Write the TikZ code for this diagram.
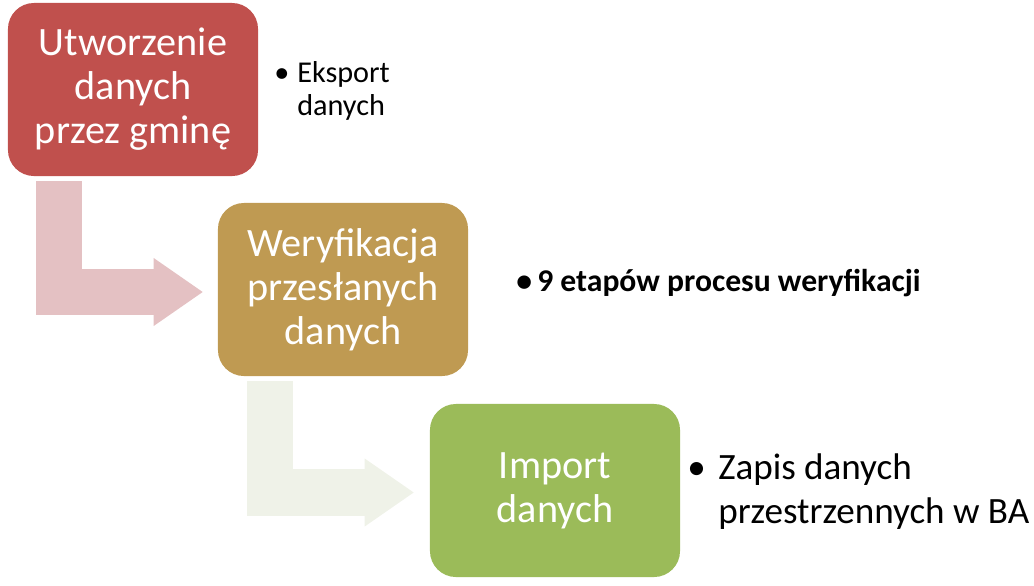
\documentclass[tikz,border=0pt]{standalone}
\usepackage{fontspec}
\setmainfont{Carlito}
\usetikzlibrary{arrows.meta,calc}

\definecolor{czerwony}{HTML}{C0504D}
\definecolor{zloty}{HTML}{BF9A52}
\definecolor{zielony}{HTML}{9BBB59}
\definecolor{rozowy}{HTML}{E4C1C3}
\definecolor{seledyn}{HTML}{EFF2E8}

% punkt listy: kropka + tekst w kolumnie
\newcommand{\punkt}[2]{\makebox[#1][l]{\textbullet}\begin{tabular}[t]{@{}l@{}}#2\end{tabular}}

\begin{document}
\begin{tikzpicture}[
    x=0.025cm, y=-0.025cm,
    every node/.style={inner sep=0pt},
    box/.style={rectangle, rounded corners=0.65cm, minimum width=6.25cm, minimum height=4.325cm, align=center, text=white, font=\fontsize{28.6}{31.3}\selectfont},
    opis/.style={anchor=base west, align=left, font=\fontsize{21.5}{23.5}\selectfont},
    strz/.style={line width=1.15cm, -{Triangle[length=1.225cm, width=1.7cm, line width=0pt]}}
]
\useasboundingbox (0,0) rectangle (1034,586);

\node[box, fill=czerwony] (utw) at (133, 89.5)  {Utworzenie\\danych\\przez gminę};
\node[box, fill=zloty]    (wer) at (343, 289.5) {Weryfikacja\\przesłanych\\danych};
\node[box, fill=zielony]  (imp) at (555, 490.5) {Import\\danych};

\node[opis] (eks) at (274, 82) {\punkt{0.575cm}{Eksport\\danych}};
\node[opis, font=\bfseries\fontsize{22.5}{26}\selectfont] (etp) at (516, 291) {\punkt{0.525cm}{9 etapów procesu weryfikacji}};
\node[opis, font=\fontsize{26.4}{31.3}\selectfont] (zap) at (687, 479) {\punkt{0.775cm}{Zapis danych\\przestrzennych w BA}};

\draw[strz, draw=rozowy]  ($(utw.south west)+(51,5)$) |- ($(wer.west)+(-15,2.5)$);
\draw[strz, draw=seledyn] ($(wer.south west)+(52,5)$) |- ($(imp.west)+(-16,2)$);
\end{tikzpicture}
\end{document}
